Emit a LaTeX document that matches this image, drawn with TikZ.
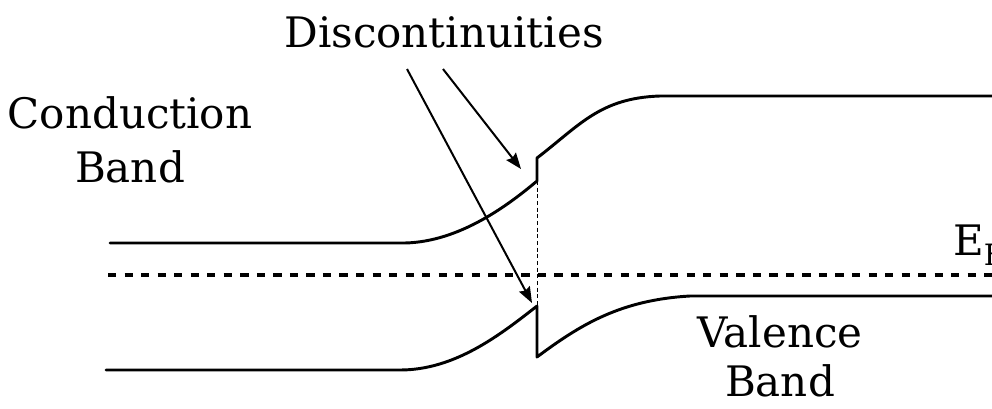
\documentclass[tikz,border=0pt]{standalone}
\usepackage{fontspec}
\setmainfont{DejaVu Serif}
\usepackage{tikz}
\usetikzlibrary{arrows.meta, positioning}

\begin{document}
\begin{tikzpicture}[
  x=0.75pt, y=-0.75pt,
  every node/.style={font=\fontsize{31.5}{39}\selectfont, inner sep=0pt},
  banda/.style={line width=2.2pt, line join=round, line cap=round},
  fermi/.style={line width=2.6pt, dash pattern=on 6.2pt off 6.2pt},
  union/.style={line width=0.7pt, dash pattern=on 3pt off 2pt},
  flecha/.style={line width=1.5pt,
    -{Stealth[length=12pt, width=9pt, inset=1.5pt]}},
  etiq/.style={align=center}
]
  \useasboundingbox (0,0) rectangle (992,408);

  % --- Etiquetas ---
  \node[etiq] (conduccion) at (130,140) {Conduction\\[2pt]Band};
  \node[etiq, anchor=base] (disc) at (444,47) {Discontinuities};
  \node[etiq] (valencia) at (780,356) {Valence\\[-2pt]Band};
  \node[anchor=base west] (fermilbl) at (953,255) {E\textsubscript{F}};

  % --- Bandas ---
  \draw[banda] (110,243) -- (400,243)
    .. controls (455,244) and (505,208) .. (537,181) -- (537,158)
    .. controls (580,125) and (600,98) .. (660,96) -- (992,96);
  \draw[banda] (106,370) -- (400,370)
    .. controls (455,370) and (500,335) .. (537,306) -- (537,357)
    .. controls (580,325) and (620,300) .. (690,296) -- (992,296);

  % --- Nivel de Fermi ---
  \draw[fermi] (108,275) -- (992,275);
  \draw[union] (537,181) -- (537,306);

  % --- Flechas ---
  \coordinate (d1) at (407,69);
  \coordinate (d2) at (443,69);
  \coordinate (salto-vb) at (532,303);
  \coordinate (salto-cb) at (521,169);
  \draw[flecha] (d1) -- (salto-vb);
  \draw[flecha] (d2) -- (salto-cb);
\end{tikzpicture}
\end{document}
